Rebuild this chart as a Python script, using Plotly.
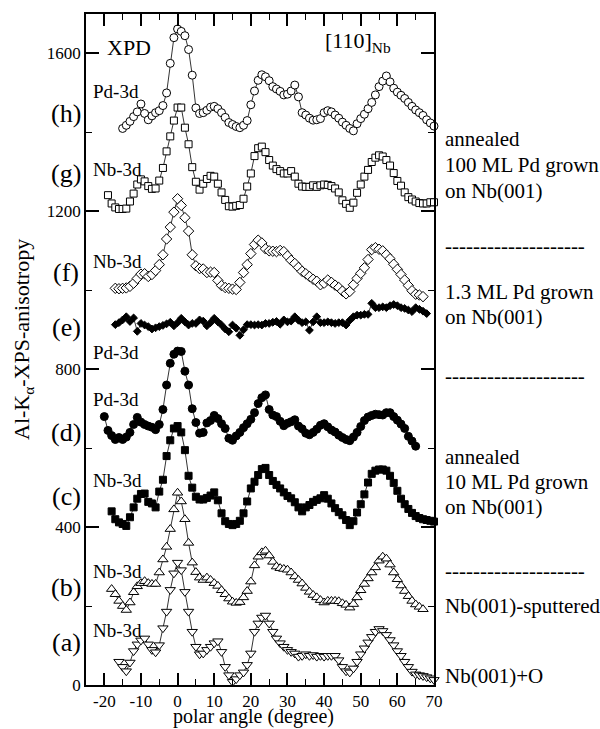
import plotly.graph_objects as go

SERIF = "Liberation Serif"

# ---- polar-angle scans (degree) and XPD anisotropy values (offset per spectrum) ----
angles_a = list(range(-16, 71))
nb3d_a_oxygen = [59, 46, 35, 57, 86, 103, 113, 118, 103, 89,
                 83, 101, 144, 186, 241, 283, 310, 291, 236, 186,
                 135, 97, 78, 80, 89, 97, 106, 111, 84, 46,
                 25, 8, 15, 25, 32, 51, 80, 135, 156, 171,
                 176, 156, 135, 118, 106, 97, 89, 84, 80, 72,
                 74, 78, 74, 76, 72, 74, 72, 74, 74, 74,
                 63, 46, 35, 32, 42, 59, 78, 93, 108, 122,
                 135, 142, 137, 127, 114, 101, 86, 74, 59, 46,
                 34, 27, 25, 23, 20, 17, 13]

angles_b = list(range(-18, 68))
nb3d_b_sputtered = [243, 230, 213, 200, 190, 209, 235, 250, 258, 263,
                    258, 256, 256, 285, 318, 350, 395, 445, 487, 465,
                    420, 360, 310, 286, 272, 266, 272, 266, 258, 251,
                    240, 230, 219, 211, 208, 210, 222, 238, 262, 303,
                    325, 336, 340, 328, 312, 300, 296, 294, 292, 285,
                    275, 266, 257, 246, 236, 228, 222, 215, 209, 213,
                    213, 213, 212, 207, 203, 196, 205, 222, 240, 256,
                    270, 285, 298, 315, 325, 320, 305, 285, 268, 252,
                    238, 225, 213, 204, 198, 192]

angles_c = list(range(-18, 71))
nb3d_c_10ml = [440, 420, 412, 408, 403, 425, 450, 472, 484, 485,
               464, 460, 450, 490, 520, 580, 620, 650, 656, 640,
               595, 530, 500, 477, 470, 470, 474, 480, 488, 468,
               435, 415, 408, 405, 408, 416, 435, 465, 498, 515,
               532, 547, 550, 532, 517, 507, 498, 488, 479, 473,
               463, 450, 440, 450, 456, 464, 469, 473, 481, 472,
               460, 448, 438, 430, 418, 405, 415, 437, 458, 483,
               513, 535, 543, 546, 546, 543, 530, 512, 492, 472,
               458, 446, 436, 428, 423, 420, 418, 416, 414]

angles_d = list(range(-20, 66))
pd3d_d_10ml = [680, 645, 632, 622, 627, 622, 628, 640, 660, 678,
               666, 660, 656, 653, 647, 660, 698, 760, 815, 838,
               846, 845, 795, 760, 700, 665, 638, 640, 664, 670,
               683, 675, 662, 650, 625, 620, 631, 640, 652, 662,
               673, 690, 713, 728, 735, 698, 684, 680, 668, 657,
               663, 667, 672, 656, 649, 638, 634, 640, 648, 658,
               662, 654, 646, 641, 633, 627, 622, 619, 628, 640,
               655, 670, 679, 683, 686, 685, 684, 690, 690, 680,
               671, 661, 650, 630, 618, 605]

angles_e = list(range(-17, 69))
pd3d_e_1ml = [913, 918, 925, 933, 921, 930, 896, 916, 912, 908,
              902, 905, 908, 911, 915, 919, 910, 918, 929, 920,
              912, 916, 916, 925, 922, 910, 918, 929, 920, 912,
              902, 895, 912, 904, 886, 900, 913, 913, 912, 913,
              912, 916, 916, 919, 921, 914, 925, 920, 922, 933,
              924, 918, 920, 899, 920, 933, 918, 918, 920, 918,
              916, 918, 918, 912, 924, 933, 937, 937, 939, 939,
              967, 956, 956, 958, 956, 961, 964, 961, 956, 954,
              950, 946, 956, 952, 947, 941]

angles_f = list(range(-17, 68))
nb3d_f_1ml = [1005, 1004, 1005, 1006, 1010, 1018, 1030, 1041, 1042, 1035,
              1040, 1050, 1065, 1090, 1130, 1160, 1198, 1232, 1215, 1184,
              1150, 1090, 1062, 1055, 1054, 1045, 1046, 1045, 1025, 1012,
              1007, 1005, 1003, 1002, 1020, 1045, 1065, 1093, 1116, 1127,
              1120, 1105, 1100, 1099, 1098, 1101, 1098, 1087, 1076, 1068,
              1058, 1048, 1042, 1035, 1028, 1023, 1014, 1018, 1026, 1020,
              1013, 1007, 998, 991, 997, 1014, 1030, 1043, 1057, 1078,
              1103, 1108, 1104, 1100, 1090, 1080, 1066, 1053, 1040, 1026,
              1012, 999, 990, 988, 984]

angles_g = list(range(-19, 71))
nb3d_g_100ml = [1241, 1220, 1210, 1206, 1206, 1207, 1225, 1245, 1268, 1281,
                1276, 1264, 1257, 1258, 1278, 1310, 1352, 1390, 1430, 1463,
                1463, 1412, 1370, 1312, 1275, 1255, 1270, 1282, 1290, 1288,
                1270, 1248, 1229, 1213, 1212, 1214, 1216, 1232, 1263, 1296,
                1340, 1360, 1364, 1350, 1330, 1316, 1307, 1302, 1296, 1296,
                1302, 1288, 1270, 1263, 1262, 1262, 1266, 1262, 1266, 1268,
                1267, 1264, 1258, 1248, 1228, 1219, 1209, 1222, 1247, 1268,
                1288, 1305, 1325, 1336, 1342, 1339, 1330, 1316, 1297, 1277,
                1265, 1248, 1236, 1230, 1225, 1221, 1220, 1220, 1223, 1223]

angles_h = list(range(-15, 71))
pd3d_h_100ml = [1410, 1418, 1428, 1440, 1452, 1472, 1448, 1432, 1442, 1450,
                1455, 1468, 1500, 1575, 1640, 1662, 1656, 1645, 1610, 1545,
                1462, 1448, 1450, 1456, 1464, 1466, 1460, 1450, 1438, 1425,
                1420, 1415, 1412, 1418, 1430, 1470, 1505, 1532, 1546, 1541,
                1531, 1516, 1510, 1504, 1495, 1497, 1505, 1520, 1490, 1450,
                1444, 1436, 1431, 1432, 1435, 1450, 1455, 1452, 1444, 1436,
                1426, 1418, 1410, 1404, 1422, 1435, 1446, 1460, 1476, 1495,
                1516, 1530, 1543, 1528, 1512, 1502, 1494, 1486, 1476, 1466,
                1457, 1450, 1443, 1432, 1424, 1416]

x_tick_values = [-20, -10, 0, 10, 20, 30, 40, 50, 60, 70]
x_tick_labels = ["-20", "-10", "0", "10", "20", "30", "40", "50", "60", "70"]
y_tick_values = [0, 400, 800, 1200, 1600]
y_tick_labels = ["0", "400", "800", "1200", "1600"]

# (angles, values, symbol, fill colour, marker size)
series = [
    (angles_h, pd3d_h_100ml, "circle", "white", 8),
    (angles_g, nb3d_g_100ml, "square", "white", 7),
    (angles_f, nb3d_f_1ml, "diamond", "white", 8),
    (angles_e, pd3d_e_1ml, "diamond", "black", 6),
    (angles_d, pd3d_d_10ml, "circle", "black", 8),
    (angles_c, nb3d_c_10ml, "square", "black", 7),
    (angles_b, nb3d_b_sputtered, "triangle-up", "white", 9),
    (angles_a, nb3d_a_oxygen, "triangle-down", "white", 9),
]

fig = go.Figure()
for ang, val, sym, fill, size in series:
    assert len(ang) == len(val)
    fig.add_trace(go.Scatter(
        x=ang, y=val, mode="lines+markers",
        line=dict(color="black", width=0.8),
        marker=dict(symbol=sym, size=size, color=fill,
                    line=dict(color="black", width=1)),
        cliponaxis=False, hoverinfo="skip",
    ))

# plot area in pixels: x 86..434, y 14..685
L, R, T, B = 86, 434, 14, 685


def pos(px, py):
    return (px - L) / (R - L), (B - py) / (B - T)


annotations = []


def label(text, px, py, size, xanchor="center", textangle=0):
    x, y = pos(px, py)
    annotations.append(dict(
        text=text, x=x, y=y, xref="paper", yref="paper",
        xanchor=xanchor, yanchor="middle", showarrow=False,
        textangle=textangle,
        font=dict(family=SERIF, size=size, color="black"),
    ))


# panel letters
for txt, py in [("(h)", 113), ("(g)", 174), ("(f)", 272), ("(e)", 327),
                ("(d)", 432), ("(c)", 496), ("(b)", 587), ("(a)", 642)]:
    label(txt, 66, py, 26)

# core-level names
for txt, py in [("Pd-3d", 92), ("Nb-3d", 169), ("Nb-3d", 261), ("Pd-3d", 352),
                ("Pd-3d", 399), ("Nb-3d", 480), ("Nb-3d", 571), ("Nb-3d", 630)]:
    label(txt, 91, py, 19, xanchor="left")

label("XPD", 129, 47, 22)
label("[110]<sub>Nb</sub>", 358, 42, 22)

# sample descriptions
right_texts = [
    ("annealed", 139), ("100 ML Pd grown", 165), ("on Nb(001)", 191),
    ("--------------------", 246),
    ("1.3 ML Pd grown", 292), ("on Nb(001)", 317),
    ("--------------------", 376),
    ("annealed", 457), ("10 ML Pd grown", 482), ("on Nb(001)", 507),
    ("--------------------", 571),
    ("Nb(001)-sputtered", 606),
    ("Nb(001)+O", 676),
]
for txt, py in right_texts:
    label(txt, 443, py, 21, xanchor="left")

# axis titles
label("polar angle (degree)", 253, 716, 20)
label("Al-K<sub>α</sub>-XPS-anisotropy", 23, 340, 22, textangle=-90)

axis_common = dict(
    showline=True, linecolor="black", linewidth=1.5, mirror="ticks",
    ticks="inside", tickcolor="black", tickwidth=1.5,
    showgrid=False, zeroline=False,
    tickfont=dict(family=SERIF, size=17, color="black"),
)

fig.update_layout(
    width=600, height=729,
    margin=dict(l=L, r=600 - R, t=T, b=729 - B),
    paper_bgcolor="white", plot_bgcolor="white",
    showlegend=False,
    font=dict(family=SERIF, color="black"),
    annotations=annotations,
    xaxis=dict(range=[-25, 70], tickvals=x_tick_values, ticktext=x_tick_labels,
               ticklen=12,
               minor=dict(ticks="inside", dtick=5, tick0=0, ticklen=6,
                          tickwidth=1.2, tickcolor="black"),
               **axis_common),
    yaxis=dict(range=[0, 1700], tickvals=y_tick_values, ticktext=y_tick_labels,
               ticklen=13,
               minor=dict(ticks="inside", dtick=200, tick0=0, ticklen=6,
                          tickwidth=1.2, tickcolor="black"),
               **axis_common),
)

fig.write_html("out.html")
